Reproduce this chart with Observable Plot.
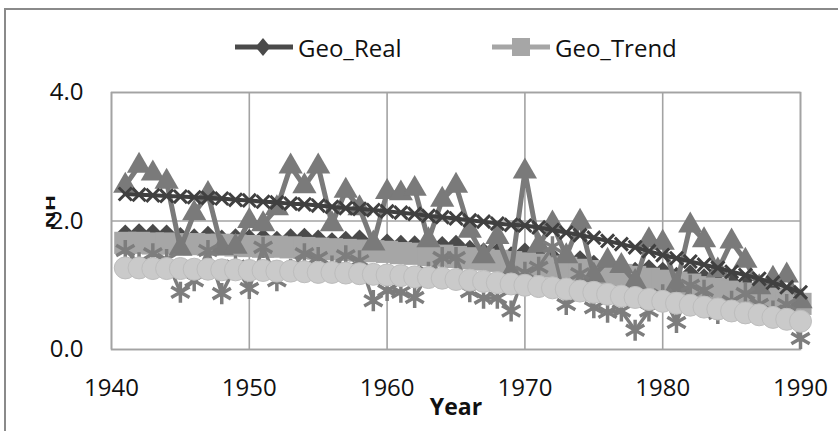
<!DOCTYPE html>
<html>
<head>
<meta charset="utf-8">
<script src="https://cdn.jsdelivr.net/npm/d3@7"></script>
<script src="https://cdn.jsdelivr.net/npm/@observablehq/plot@0.6"></script>
<style>
  html, body { margin: 0; padding: 0; background: #fff; }
  #wrap { position: relative; width: 838px; height: 431px; overflow: hidden; background: #fff; font-family: "Open Sans", sans-serif; }
  #border { position: absolute; left: 4px; top: 8px; width: 900px; height: 500px; border: 2.5px solid #8a8a8a; box-sizing: border-box; pointer-events: none; }
  #chart { position: absolute; left: 0; top: 0; }
  .leg { position: absolute; top: 30px; display: flex; align-items: center; font-size: 24px; color: #111; }
  .leg svg { display: block; margin-right: 5px; }
</style>
</head>
<body>
<div id="wrap">
  <div id="border"></div>
  <div id="chart"></div>
  <div class="leg" style="left:235px"><svg width="58" height="34"><line x1="0" y1="17" x2="58" y2="17" stroke="#4a4a4a" stroke-width="5" stroke-linecap="round"/><path d="M28 8 L35.5 17 L28 26 L20.5 17 Z" fill="#4a4a4a"/></svg><span>Geo_Real</span></div>
  <div class="leg" style="left:492px"><svg width="58" height="34"><line x1="0" y1="17" x2="58" y2="17" stroke="#a6a6a6" stroke-width="5" stroke-linecap="round"/><rect x="20" y="8" width="18" height="18" fill="#a6a6a6"/></svg><span>Geo_Trend</span></div>
</div>
<script>
const years = [1941,1942,1943,1944,1945,1946,1947,1948,1949,1950,
               1951,1952,1953,1954,1955,1956,1957,1958,1959,1960,
               1961,1962,1963,1964,1965,1966,1967,1968,1969,1970,
               1971,1972,1973,1974,1975,1976,1977,1978,1979,1980,
               1981,1982,1983,1984,1985,1986,1987,1988,1989,1990];

const geoReal = [1.80,1.82,1.81,1.80,1.76,1.74,1.78,1.72,1.74,1.73,
                 1.74,1.70,1.74,1.75,1.72,1.68,1.70,1.72,1.62,1.66,
                 1.64,1.63,1.58,1.62,1.64,1.56,1.52,1.52,1.46,1.52,
                 1.45,1.44,1.38,1.40,1.33,1.32,1.28,1.22,1.26,1.22,
                 1.14,1.18,1.12,1.04,1.05,1.00,0.93,0.90,0.85,0.79];

const geoTrend = [1.66,1.66,1.65,1.65,1.64,1.64,1.63,1.63,1.62,1.61,
                  1.60,1.60,1.59,1.58,1.57,1.56,1.55,1.54,1.53,1.52,
                  1.50,1.49,1.47,1.46,1.44,1.42,1.40,1.38,1.36,1.34,
                  1.32,1.29,1.27,1.24,1.22,1.19,1.16,1.13,1.10,1.07,
                  1.04,1.01,0.97,0.94,0.90,0.87,0.83,0.79,0.75,0.71];

const seriesTri = [2.55,2.86,2.74,2.61,1.57,2.12,2.42,1.58,1.60,2.00,
                   1.95,2.20,2.85,2.54,2.85,1.95,2.47,2.20,1.65,2.45,
                   2.43,2.50,1.70,2.33,2.55,1.85,1.45,1.75,1.20,2.77,
                   1.62,1.96,1.45,1.99,1.15,1.38,1.30,1.05,1.70,1.66,
                   1.00,1.93,1.70,1.23,1.68,1.38,0.97,1.10,1.15,0.75];

const seriesX = [2.42,2.41,2.40,2.39,2.38,2.37,2.36,2.35,2.33,2.32,
                 2.30,2.29,2.27,2.26,2.24,2.22,2.20,2.19,2.17,2.15,
                 2.13,2.11,2.08,2.06,2.04,2.01,1.99,1.96,1.94,1.93,
                 1.90,1.86,1.82,1.78,1.74,1.69,1.64,1.59,1.53,1.47,
                 1.42,1.37,1.32,1.27,1.21,1.16,1.10,1.04,0.97,0.89];

const seriesStar = [1.54,1.35,1.49,1.40,0.89,1.07,1.54,0.87,1.30,0.95,
                    1.59,1.07,1.25,1.49,1.43,1.30,1.46,1.38,0.76,0.92,
                    0.89,0.81,1.20,1.43,1.43,0.90,0.80,0.80,0.60,1.20,
                    1.28,1.60,0.70,1.18,0.65,0.58,0.60,0.30,0.60,0.85,
                    0.42,1.00,0.92,0.56,0.75,0.87,0.70,0.60,0.70,0.17];

const seriesCircle = [1.27,1.27,1.26,1.26,1.26,1.25,1.25,1.24,1.24,1.23,
                      1.23,1.22,1.22,1.21,1.20,1.20,1.19,1.18,1.17,1.16,
                      1.15,1.13,1.12,1.11,1.09,1.08,1.06,1.04,1.02,1.00,
                      0.98,0.96,0.94,0.91,0.89,0.86,0.83,0.81,0.78,0.75,
                      0.72,0.69,0.66,0.63,0.60,0.57,0.54,0.50,0.47,0.44];

const xTicks = [1940, 1950, 1960, 1970, 1980, 1990];
const yTicks = [0, 2, 4];
const xLabel = "Year";
const yLabel = "NH";

const rows = arr => years.map((yr, i) => ({year: yr, v: arr[i]}));

const gridColor = "#a3a3a3";

const chart = Plot.plot({
  width: 838,
  height: 431,
  marginLeft: 111,
  marginRight: 38,
  marginTop: 92,
  marginBottom: 82,
  x: {domain: [1940, 1990]},
  y: {domain: [0, 4]},
  style: {fontFamily: "Open Sans, sans-serif", fontSize: "24px", color: "#111", background: "transparent", overflow: "visible"},
  marks: [
    Plot.gridX(xTicks, {stroke: gridColor, strokeOpacity: 1, strokeWidth: 1.6}),
    Plot.gridY(yTicks, {stroke: gridColor, strokeOpacity: 1, strokeWidth: 1.6}),
    Plot.frame({stroke: gridColor, strokeWidth: 1.6}),
    Plot.axisX({ticks: xTicks, tickSize: 0, tickPadding: 29, tickFormat: d => String(d), label: null, fontSize: 24}),
    Plot.axisY({ticks: yTicks, tickSize: 0, tickPadding: 28, tickFormat: d => d.toFixed(1), label: null, fontSize: 24}),
    // Geo_Real
    Plot.line(rows(geoReal), {x: "year", y: "v", stroke: "#4a4a4a", strokeWidth: 3.5}),
    Plot.dot(rows(geoReal), {x: "year", y: "v", symbol: "square", rotate: 45, r: 7.5, fill: "#4a4a4a", stroke: "none"}),
    // Geo_Trend
    Plot.line(rows(geoTrend), {x: "year", y: "v", stroke: "#a6a6a6", strokeWidth: 3.5}),
    Plot.dot(rows(geoTrend), {x: "year", y: "v", symbol: "square", r: 12.5, fill: "#a6a6a6", stroke: "none"}),
    // triangles
    Plot.line(rows(seriesTri), {x: "year", y: "v", stroke: "#7a7a7a", strokeWidth: 5}),
    Plot.dot(rows(seriesTri), {x: "year", y: "v", symbol: "triangle", r: 9, fill: "#7a7a7a", stroke: "none"}),
    // dark x-marker trend
    Plot.line(rows(seriesX), {x: "year", y: "v", stroke: "#404040", strokeWidth: 4}),
    Plot.dot(rows(seriesX), {x: "year", y: "v", symbol: "times", r: 6, fill: "none", stroke: "#404040", strokeWidth: 3}),
    // stars
    Plot.line(rows(seriesStar), {x: "year", y: "v", stroke: "#7d7d7d", strokeWidth: 3.5}),
    Plot.dot(rows(seriesStar), {x: "year", y: "v", symbol: "asterisk", r: 10, fill: "none", stroke: "#7d7d7d", strokeWidth: 3.5}),
    // circles
    Plot.line(rows(seriesCircle), {x: "year", y: "v", stroke: "#c8c8c8", strokeWidth: 3.5}),
    Plot.dot(rows(seriesCircle), {x: "year", y: "v", symbol: "circle", r: 11, fill: "#cacaca", stroke: "#bdbdbd", strokeWidth: 1}),
    // axis titles
    Plot.text([xLabel], {frameAnchor: "bottom", dy: 65, text: d => d, fontWeight: "bold", fontSize: 23, fill: "#111"}),
    Plot.text([yLabel], {y: [1.88], frameAnchor: "left", dx: -60, rotate: -90, text: d => d, fontWeight: "bold", fontSize: 12, fill: "#111"})
  ]
});
document.getElementById("chart").appendChild(chart);
// stretch the rotated y title along its length, as in the original
d3.select(chart).selectAll("text").filter(function() { return this.textContent === yLabel; })
  .attr("textLength", 34).attr("lengthAdjust", "spacingAndGlyphs");
</script>
</body>
</html>
